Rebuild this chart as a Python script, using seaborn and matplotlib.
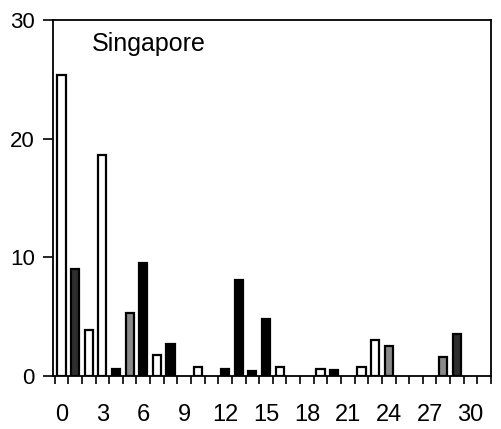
import matplotlib
matplotlib.use("Agg")
import matplotlib.pyplot as plt
import seaborn as sns
import pandas as pd
from matplotlib.ticker import FixedLocator

# Data
lags = [0, 1, 2, 3, 4, 5, 6, 7, 8, 10, 12, 13, 14, 15, 16, 19, 20, 22, 23, 24, 28, 29]
values = [25.4, 9.0, 3.9, 18.6, 0.6, 5.3, 9.5, 1.8, 2.7, 0.8, 0.6, 8.1, 0.4, 4.8,
          0.8, 0.6, 0.5, 0.8, 3.0, 2.5, 1.6, 3.5]
kinds = ["open", "dark", "open", "open", "solid", "gray", "solid", "open", "solid",
         "open", "solid", "solid", "solid", "solid", "open", "open", "solid", "open",
         "open", "gray", "gray", "dark"]
xtick_vals = [0, 3, 6, 9, 12, 15, 18, 21, 24, 27, 30]
ytick_vals = [0, 10, 20, 30]
title = "Singapore"

df = pd.DataFrame({"lag": lags, "value": values, "kind": kinds})
palette = {"open": "#ffffff", "gray": "#8a8a8a", "dark": "#2e2e2e", "solid": "#000000"}

sns.set_style("ticks")
plt.rcParams["font.family"] = ["Liberation Sans", "DejaVu Sans"]
plt.rcParams["text.color"] = "black"
plt.rcParams["xtick.color"] = "black"
plt.rcParams["ytick.color"] = "black"

fig = plt.figure(figsize=(5.01, 4.29), dpi=100)
ax = fig.add_axes([53 / 501, 53 / 429, 438 / 501, 356 / 429])

sns.barplot(data=df, x="lag", y="value", hue="kind", palette=palette,
            native_scale=True, dodge=False, width=0.6, edgecolor="black",
            linewidth=1.6, legend=False, ax=ax)

ax.set_xlim(-0.62, 31.5)
ax.set_ylim(0, 30)
ax.set_xlabel("")
ax.set_ylabel("")

ax.xaxis.set_major_locator(FixedLocator(xtick_vals))
ax.xaxis.set_minor_locator(FixedLocator([k - 0.5 for k in range(33)]))
ax.set_xticklabels([str(v) for v in xtick_vals])
ax.tick_params(axis="x", which="major", length=0, pad=20, labelsize=17, labelcolor="black")
ax.tick_params(axis="x", which="minor", length=6, width=1.2, direction="out", color="black")

ax.set_yticks(ytick_vals)
ax.tick_params(axis="y", which="major", length=7, width=1.2, pad=6, labelsize=16,
               direction="out", color="black", labelcolor="black")

for s in ["left", "right", "top", "bottom"]:
    ax.spines[s].set_visible(True)
    ax.spines[s].set_linewidth(1.3)
    ax.spines[s].set_color("black")

ax.text(0.088, 0.965, title, transform=ax.transAxes, ha="left", va="top",
        fontsize=18, color="black")

fig.savefig("out.png", dpi=100)
